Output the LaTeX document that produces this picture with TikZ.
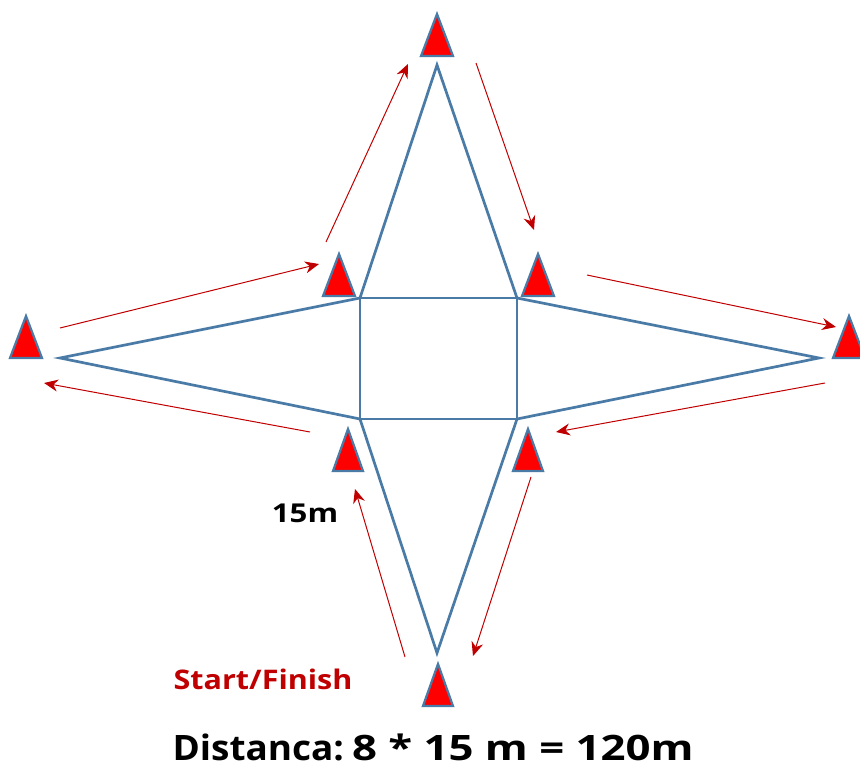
\documentclass[tikz,border=0pt]{standalone}
\usepackage{graphicx}
\usepackage{fontspec}
\setmainfont{Open Sans}
\usetikzlibrary{arrows.meta}
\definecolor{starblue}{HTML}{4A7BA7}
\definecolor{arrowred}{HTML}{C00000}
\tikzset{
	starline/.style={draw=starblue,line width=2.7pt,line join=miter},
	cone/.style={draw=starblue,fill=red,line width=2.2pt,line join=miter},
	runarrow/.style={arrowred,line width=1pt,-{Stealth[length=14pt,width=12pt]}},
	wide/.style={xscale=#1,transform shape}
}
\begin{document}
\begin{tikzpicture}[x=1pt,y=-1pt]
	\clip (0,0) rectangle (860,767);
	% star
	\coordinate (top) at (437,65);
	\coordinate (left) at (60,358);
	\coordinate (right) at (819,358);
	\coordinate (bottom) at (437,653);
	\coordinate (nw) at (360,298);
	\coordinate (ne) at (517,298);
	\coordinate (se) at (517,419);
	\coordinate (sw) at (360,419);
	\draw[starline] (nw) -- (ne) -- (se) -- (sw) -- cycle;
	\draw[starline] (nw) -- (top) -- (ne) -- (right) -- (se) -- (bottom) -- (sw) -- (left) -- cycle;
	% cones
	\foreach \x/\y/\w/\h in {437/56/16/42,339/296/16/42,538/296/16/42,26/358/16/42,849/358/16/42,348/471/15/42,528/471/15/42,438/706/15/42}
		\draw[cone] (\x-\w,\y) -- (\x,\y-\h) -- (\x+\w,\y) -- cycle;
	% arrows
	\coordinate (a1) at (326,242);
	\coordinate (b1) at (408,64);
	\coordinate (a2) at (476,63);
	\coordinate (b2) at (534,230);
	\coordinate (a3) at (587,275);
	\coordinate (b3) at (836,327);
	\coordinate (a4) at (825,383);
	\coordinate (b4) at (556,432);
	\coordinate (a5) at (531,477);
	\coordinate (b5) at (473,656);
	\coordinate (a6) at (405,657);
	\coordinate (b6) at (355,489);
	\coordinate (a7) at (310,432);
	\coordinate (b7) at (44,383);
	\coordinate (a8) at (60,328);
	\coordinate (b8) at (319,264);
	\foreach \i in {1,...,8}
		\draw[runarrow] (a\i) -- (b\i);
	% labels
	\node[wide=1.2,font=\bfseries\fontsize{26}{30}\selectfont] (dist15) at (305,513) {15m};
	\node[wide=1.13,font=\bfseries\fontsize{27}{32}\selectfont,text=arrowred] (start) at (263,679) {Start/Finish};
	\node[font=\bfseries\fontsize{35}{40}\selectfont] (formula) at (433,747) {\scalebox{1.056}[1]{Distanca:}\kern8pt\scalebox{1.25}[1]{8 * 15 m = 120m}};
\end{tikzpicture}
\end{document}
